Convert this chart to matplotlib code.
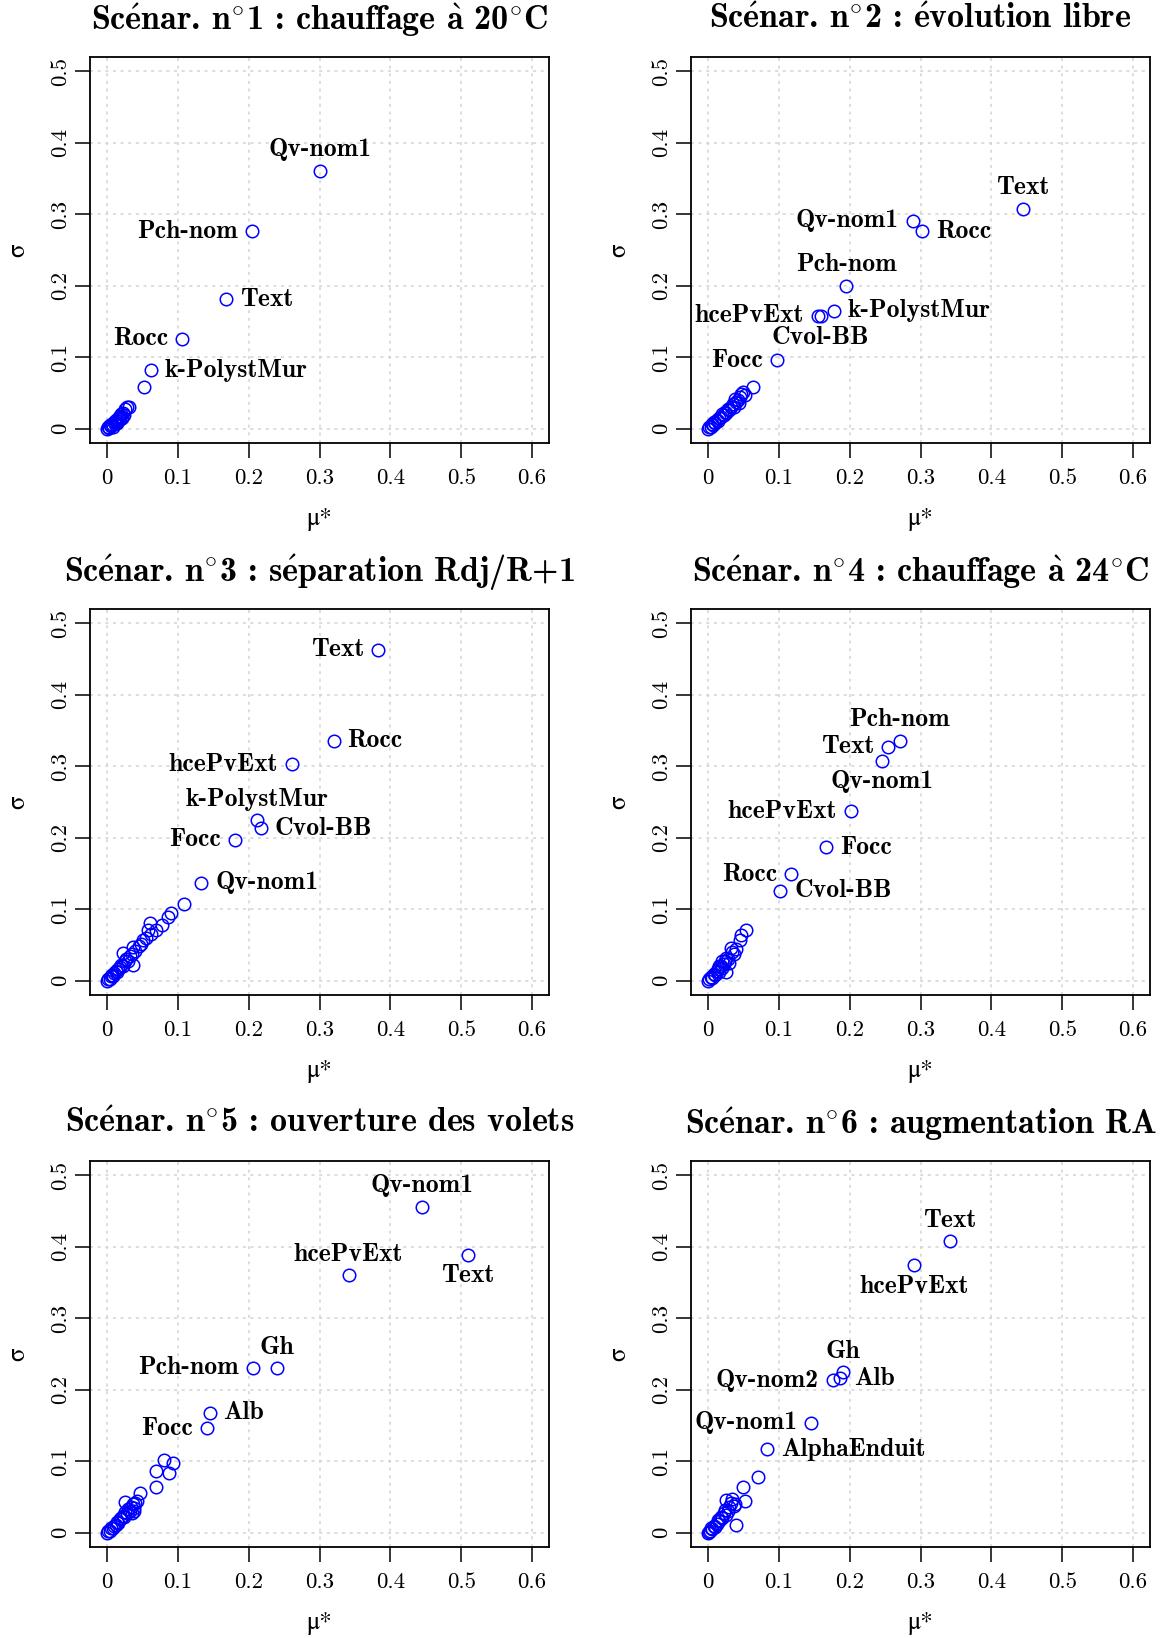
import numpy as np
import matplotlib
matplotlib.use("Agg")
import matplotlib.pyplot as plt

plt.rcParams['mathtext.fontset'] = 'cm'

# Titres des scenarios (accents et degre via mathtext, le reste en cmb10)
titles = [
    r"Sc$\acute{\mathbf{e}}$nar. n$^{\circ}$1 : chauffage $\grave{\mathbf{a}}$ 20$^{\circ}$C",
    r"Sc$\acute{\mathbf{e}}$nar. n$^{\circ}$2 : $\acute{\mathbf{e}}$volution libre",
    r"Sc$\acute{\mathbf{e}}$nar. n$^{\circ}$3 : s$\acute{\mathbf{e}}$paration Rdj/R+1",
    r"Sc$\acute{\mathbf{e}}$nar. n$^{\circ}$4 : chauffage $\grave{\mathbf{a}}$ 24$^{\circ}$C",
    r"Sc$\acute{\mathbf{e}}$nar. n$^{\circ}$5 : ouverture des volets",
    r"Sc$\acute{\mathbf{e}}$nar. n$^{\circ}$6 : augmentation RA",
]

# Parametres nommes (mu*, sigma) par scenario
names1 = ["Qv-nom1", "Pch-nom", "Text", "Rocc", "k-PolystMur"]
mu1 = [0.301, 0.204, 0.168, 0.106, 0.062]
sig1 = [0.361, 0.276, 0.181, 0.126, 0.082]

names2 = ["Text", "Qv-nom1", "Rocc", "Pch-nom", "k-PolystMur", "hcePvExt", "Cvol-BB", "Focc"]
mu2 = [0.444, 0.289, 0.302, 0.195, 0.178, 0.155, 0.159, 0.097]
sig2 = [0.308, 0.291, 0.276, 0.200, 0.165, 0.158, 0.157, 0.096]

names3 = ["Text", "Rocc", "hcePvExt", "k-PolystMur", "Cvol-BB", "Focc", "Qv-nom1"]
mu3 = [0.383, 0.320, 0.261, 0.212, 0.217, 0.180, 0.133]
sig3 = [0.463, 0.336, 0.303, 0.225, 0.213, 0.197, 0.137]

names4 = ["Pch-nom", "Text", "Qv-nom1", "hcePvExt", "Focc", "Rocc", "Cvol-BB"]
mu4 = [0.271, 0.254, 0.246, 0.202, 0.167, 0.117, 0.102]
sig4 = [0.336, 0.327, 0.308, 0.237, 0.187, 0.149, 0.126]

names5 = ["Qv-nom1", "Text", "hcePvExt", "Gh", "Pch-nom", "Alb", "Focc"]
mu5 = [0.444, 0.509, 0.341, 0.240, 0.206, 0.145, 0.141]
sig5 = [0.456, 0.389, 0.360, 0.230, 0.231, 0.168, 0.146]

names6 = ["Text", "hcePvExt", "Gh", "Alb", "Qv-nom2", "Qv-nom1", "AlphaEnduit"]
mu6 = [0.341, 0.291, 0.190, 0.187, 0.176, 0.146, 0.083]
sig6 = [0.408, 0.374, 0.225, 0.216, 0.213, 0.154, 0.117]

# Autres parametres (non nommes)
mu1_o = [0.052, 0.000, 0.002, 0.003, 0.004, 0.006, 0.007, 0.008, 0.010, 0.011, 0.012, 0.013,
         0.014, 0.015, 0.016, 0.017, 0.018, 0.019, 0.020, 0.021, 0.022, 0.024, 0.025, 0.028, 0.031]
sig1_o = [0.058, 0.000, 0.003, 0.001, 0.005, 0.004, 0.007, 0.002, 0.009, 0.006, 0.010, 0.012,
          0.008, 0.014, 0.011, 0.016, 0.013, 0.018, 0.020, 0.015, 0.022, 0.019, 0.027, 0.030, 0.031]

mu2_o = [0.063, 0.000, 0.002, 0.004, 0.005, 0.007, 0.009, 0.010, 0.012, 0.014, 0.016, 0.018, 0.020,
         0.022, 0.024, 0.026, 0.028, 0.030, 0.033, 0.035, 0.037, 0.040, 0.042, 0.045, 0.047, 0.050,
         0.052, 0.038, 0.044]
sig2_o = [0.058, 0.000, 0.003, 0.002, 0.006, 0.005, 0.009, 0.008, 0.012, 0.011, 0.015, 0.017, 0.020,
          0.019, 0.024, 0.022, 0.028, 0.026, 0.031, 0.035, 0.030, 0.037, 0.040, 0.044, 0.048, 0.051,
          0.047, 0.042, 0.036]

mu3_o = [0.109, 0.090, 0.086, 0.078, 0.061, 0.069, 0.058, 0.051, 0.037, 0.037, 0.023, 0.000, 0.002,
         0.004, 0.005, 0.007, 0.009, 0.010, 0.012, 0.014, 0.016, 0.018, 0.020, 0.022, 0.025, 0.027,
         0.030, 0.032, 0.035, 0.040, 0.045, 0.048, 0.055, 0.062]
sig3_o = [0.108, 0.095, 0.089, 0.078, 0.081, 0.071, 0.071, 0.057, 0.047, 0.022, 0.039, 0.000, 0.002,
          0.003, 0.006, 0.008, 0.007, 0.011, 0.013, 0.012, 0.017, 0.019, 0.022, 0.020, 0.027, 0.031,
          0.028, 0.035, 0.038, 0.042, 0.048, 0.052, 0.060, 0.065]

mu4_o = [0.054, 0.046, 0.045, 0.033, 0.034, 0.026, 0.026, 0.000, 0.002, 0.004, 0.006, 0.008, 0.010,
         0.012, 0.014, 0.016, 0.018, 0.020, 0.022, 0.024, 0.028, 0.030, 0.036, 0.040, 0.020, 0.015]
sig4_o = [0.071, 0.064, 0.057, 0.046, 0.040, 0.032, 0.012, 0.000, 0.002, 0.005, 0.004, 0.009, 0.008,
          0.013, 0.016, 0.012, 0.020, 0.018, 0.024, 0.027, 0.030, 0.025, 0.038, 0.044, 0.028, 0.020]

mu5_o = [0.080, 0.093, 0.069, 0.088, 0.069, 0.047, 0.025, 0.000, 0.002, 0.004, 0.006, 0.008, 0.010,
         0.012, 0.014, 0.016, 0.018, 0.020, 0.022, 0.024, 0.026, 0.028, 0.030, 0.032, 0.034, 0.036,
         0.038, 0.040, 0.042, 0.035, 0.038]
sig5_o = [0.102, 0.097, 0.086, 0.083, 0.064, 0.055, 0.043, 0.000, 0.003, 0.002, 0.006, 0.007, 0.010,
          0.011, 0.015, 0.014, 0.019, 0.021, 0.024, 0.022, 0.029, 0.027, 0.033, 0.031, 0.036, 0.040,
          0.035, 0.042, 0.045, 0.028, 0.030]

mu6_o = [0.070, 0.049, 0.052, 0.026, 0.034, 0.040, 0.038, 0.030, 0.028, 0.025, 0.022, 0.020, 0.018,
         0.016, 0.014, 0.012, 0.010, 0.008, 0.006, 0.004, 0.003, 0.001, 0.000, 0.032, 0.036, 0.024]
sig6_o = [0.078, 0.064, 0.044, 0.046, 0.047, 0.011, 0.040, 0.036, 0.030, 0.025, 0.028, 0.020, 0.022,
          0.016, 0.018, 0.012, 0.008, 0.010, 0.005, 0.006, 0.002, 0.001, 0.000, 0.042, 0.038, 0.032]

# position des etiquettes (comme pos= dans R : 1 dessous, 2 gauche, 3 dessus, 4 droite)
pos1 = [3, 2, 4, 2, 4]
pos2 = [3, 2, 4, 3, 4, 2, 1, 2]
pos3 = [2, 4, 2, 3, 4, 2, 4]
pos4 = [3, 2, 1, 2, 4, 2, 4]
pos5 = [3, 1, 3, 3, 2, 4, 2]
pos6 = [3, 1, 3, 4, 2, 2, 4]

panels = [
    (names1, mu1, sig1, mu1_o, sig1_o, pos1),
    (names2, mu2, sig2, mu2_o, sig2_o, pos2),
    (names3, mu3, sig3, mu3_o, sig3_o, pos3),
    (names4, mu4, sig4, mu4_o, sig4_o, pos4),
    (names5, mu5, sig5, mu5_o, sig5_o, pos5),
    (names6, mu6, sig6, mu6_o, sig6_o, pos6),
]

xticks = [0, 0.1, 0.2, 0.3, 0.4, 0.5, 0.6]
yticks = [0, 0.1, 0.2, 0.3, 0.4, 0.5]
xtick_labels = ["0", "0.1", "0.2", "0.3", "0.4", "0.5", "0.6"]
ytick_labels = ["0", "0.1", "0.2", "0.3", "0.4", "0.5"]

W, H = 1160, 1638
fig = plt.figure(figsize=(W / 100, H / 100), dpi=100)

lefts = [90, 691]
tops = [57, 609, 1161]
aw, ah = 459, 386

offsets = {1: (0, -15), 2: (-10, 0), 3: (0, 15), 4: (10, 0)}
aligns = {1: ("center", "center"), 2: ("right", "center"), 3: ("center", "center"), 4: ("left", "center")}

for i, (names, mu, sig, mu_o, sig_o, pos) in enumerate(panels):
    r, c = divmod(i, 2)
    ax = fig.add_axes([lefts[c] / W, 1 - (tops[r] + ah) / H, aw / W, ah / H])
    ax.set_xlim(-0.024, 0.624)
    ax.set_ylim(-0.02, 0.52)

    for xv in xticks:
        ax.axvline(xv, color="#d3d3d3", lw=1.1, ls=(0, (2, 3)), zorder=0)
    for yv in yticks:
        ax.axhline(yv, color="#d3d3d3", lw=1.1, ls=(0, (2, 3)), zorder=0)

    ax.plot(mu_o, sig_o, "o", mfc="none", mec="blue", ms=9, mew=1.1, zorder=3)
    ax.plot(mu, sig, "o", mfc="none", mec="blue", ms=9, mew=1.1, zorder=3)

    for n, xv, yv, p in zip(names, mu, sig, pos):
        ha, va = aligns[p]
        ax.annotate(n, (xv, yv), xytext=offsets[p], textcoords="offset points",
                    ha=ha, va=va, fontsize=18.5, family="cmb10", zorder=4)

    ax.set_xticks(xticks)
    ax.set_xticklabels(xtick_labels, family="cmr10", fontsize=16.5)
    ax.set_yticks(yticks)
    ax.set_yticklabels(ytick_labels, family="cmr10", fontsize=16.5, rotation=90, va="center")
    ax.tick_params(axis="both", direction="out", length=11, width=1.1, color="black")
    ax.tick_params(axis="x", pad=7)
    ax.tick_params(axis="y", pad=3)
    for sp in ax.spines.values():
        sp.set_linewidth(1.3)

    ax.text(0.5, 1 + 37 / ah, titles[i], transform=ax.transAxes, ha="center", va="center",
            fontsize=24.5, family="cmb10")
    ax.text(0.5, -76 / ah, "μ*", transform=ax.transAxes, ha="center", va="center",
            fontsize=18, family="STIXGeneral")
    ax.text(-72 / aw, 0.5, "σ", transform=ax.transAxes, ha="center", va="center",
            fontsize=18, family="STIXGeneral", rotation=90)

fig.savefig("out.png", dpi=100)
